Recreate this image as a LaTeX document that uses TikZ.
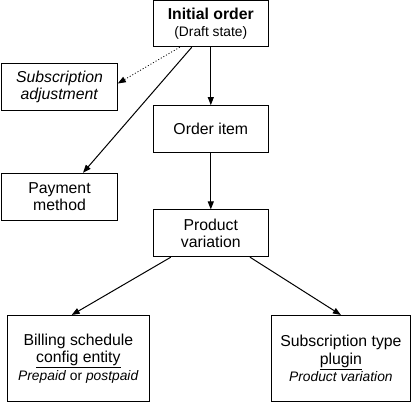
\documentclass[tikz,border=0pt]{standalone}
\usepackage{fontspec}
\setmainfont{Liberation Sans}
\usetikzlibrary{arrows.meta}
\newcommand{\smalltxt}{\fontsize{13.8}{16}\selectfont}

\begin{document}
\begin{tikzpicture}[x=1pt, y=-1pt,
    box/.style={draw, line width=1pt, inner sep=0pt, align=center, font=\fontsize{15.8}{17.5}\selectfont},
    smallbox/.style={box, minimum width=115pt, minimum height=46.8pt},
    bigbox/.style={box, minimum height=86.5pt},
    arr/.style={-{Triangle[length=8pt,width=6pt]}, line width=1pt}]

    \useasboundingbox (0,0) rectangle (414,403);

    %Boxes
    \node[smallbox, minimum height=46.2pt] (init) at (210.8,23.6) {\textbf{Initial order}\\{\smalltxt(Draft state)}}; %Top
    \node[smallbox, minimum width=115.6pt] (adj) at (59.5,87) {\textit{Subscription}\\\textit{adjustment}};
    \node[smallbox] (item) at (210.8,129) {Order item};
    \node[smallbox, minimum width=115.6pt] (pay) at (59.5,196.7) {Payment\\method};
    \node[smallbox] (var) at (210.8,233.3) {Product\\variation};
    \node[bigbox, minimum width=141.8pt] (bill) at (78.4,358.7) {Billing schedule\\\underline{config entity}\\{\smalltxt\textit{Prepaid} or \textit{postpaid}}};
    \node[bigbox, minimum width=138.3pt] (type) at (340.9,358.7) {Subscription type\\\underline{plugin}\\{\smalltxt\textit{Product variation}}};

    %Arrows
    \draw[arr] (init) -- (item);
    \draw[arr] (item) -- (var);
    \draw[arr, dotted, line width=0.8pt] ([xshift=-31pt]init.south) -- ([yshift=3.5pt]adj.east); %Dotted
    \draw[arr] ([xshift=-19pt]init.south) -- ([xshift=23.5pt]pay.north);
    \draw[arr] ([xshift=-40pt]var.south) -- ([xshift=-6.7pt]bill.north);
    \draw[arr] ([xshift=39.2pt]var.south) -- (type.north);

\end{tikzpicture}
\end{document}
